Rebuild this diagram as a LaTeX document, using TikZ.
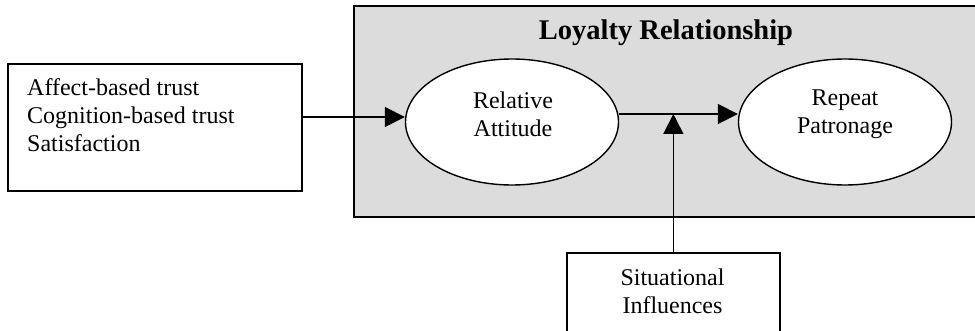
\documentclass[tikz,border=0pt]{standalone}
\usepackage{fontspec}
\setmainfont{Liberation Serif}
\usetikzlibrary{shapes.geometric,arrows.meta}
\definecolor{boxgray}{RGB}{220,220,220}
\tikzset{
  txt/.style={font=\fontsize{24}{28}\selectfont},
  plainbox/.style={draw, line width=1.7pt, fill=white, inner sep=0pt},
  oval/.style={ellipse, draw, line width=1.4pt, fill=white, inner sep=0pt,
    minimum width=213pt, minimum height=126pt},
  ovaltxt/.style={txt, align=center, inner sep=0pt},
  arr/.style={line width=1.7pt, -{Triangle[length=20pt,width=20pt]}}
}
\begin{document}
\begin{tikzpicture}[x=1pt,y=-1pt]
\useasboundingbox (0,0) rectangle (975,331);
% loyalty relationship frame
\node[draw, line width=1.7pt, fill=boxgray, minimum width=626pt, minimum height=211pt,
      inner sep=0pt, anchor=north west] (frame) at (353,5) {};
\node[font=\bfseries\fontsize{28.5}{32}\selectfont] (title) at (666,33) {Loyalty Relationship};
% left box
\node[plainbox, minimum width=294pt, minimum height=127pt, anchor=north west] (lbox) at (7,63) {};
\node[txt, align=left, anchor=west, inner sep=0pt] (ltext) at (27,115)
  {Affect-based trust\\Cognition-based trust\\Satisfaction};
% ellipses
\node[oval] (e1) at (512,122) {};
\node[ovaltxt] (e1t) at (513,114) {Relative\\Attitude};
\node[oval] (e2) at (845,122) {};
\node[ovaltxt] (e2t) at (845,114) {Repeat\\Patronage};
% situational box
\node[plainbox, minimum width=213pt, minimum height=82pt, anchor=north west] (sbox) at (566,252) {};
\node[txt, align=center, inner sep=0pt] (stext) at (672.5,291) {Situational\\Influences};
% connectors
\coordinate (ya) at (0,117);
\coordinate (yb) at (0,114);
\draw[arr] (lbox.east |- ya) -- (e1.west |- ya);
\draw[arr] (e1.east |- yb) -- (e2.west |- yb);
\coordinate (join) at (sbox.north |- yb);
\draw[arr] (sbox.north) -- (join);
\end{tikzpicture}
\end{document}
